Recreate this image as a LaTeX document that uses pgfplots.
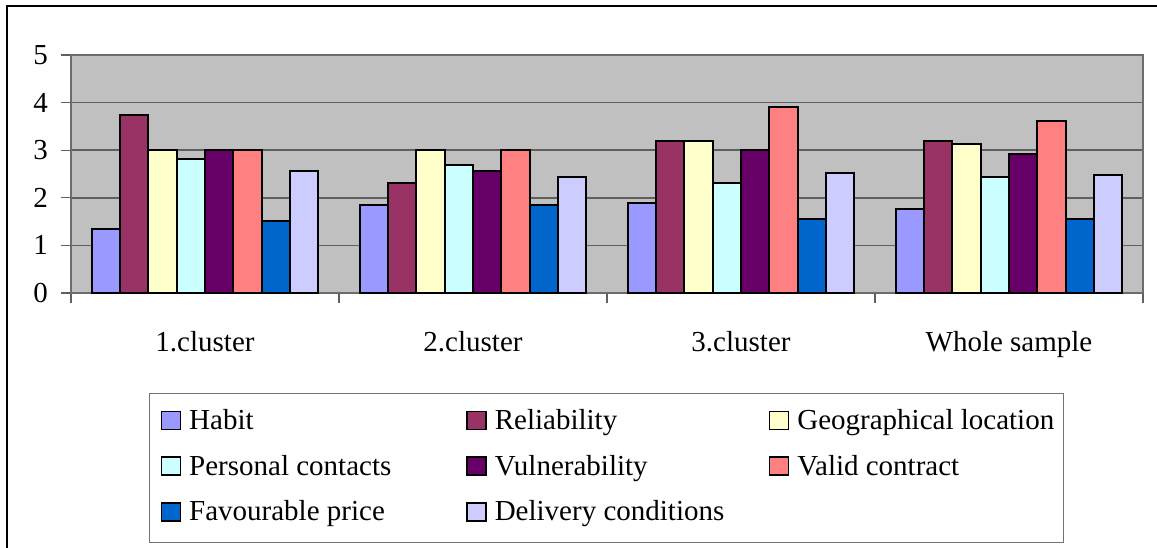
\documentclass[border=0pt]{standalone}
\usepackage{pgfplots}
\pgfplotsset{compat=1.18}
\usepackage{fontspec}
\setmainfont{Liberation Serif}
\definecolor{cHabit}{HTML}{9999FF}
\definecolor{cRel}{HTML}{993366}
\definecolor{cGeo}{HTML}{FFFFCC}
\definecolor{cPers}{HTML}{CCFFFF}
\definecolor{cVul}{HTML}{660066}
\definecolor{cValid}{HTML}{FF8080}
\definecolor{cFav}{HTML}{0066CC}
\definecolor{cDel}{HTML}{CCCCFF}
\definecolor{plotbg}{HTML}{C0C0C0}
\definecolor{gridc}{HTML}{5F5F5F}
\begin{document}
\begin{tikzpicture}[font=\fontsize{14.5}{17}\selectfont]
\useasboundingbox (0pt,0pt) rectangle (578.5pt,-273.5pt);
\draw[line width=0.9pt] (3.5pt,-300pt) -- (3.5pt,-3pt) -- (600pt,-3pt);
\begin{axis}[
  at={(35.5pt,-27.5pt)}, anchor=north west,
  width=536pt, height=119pt, scale only axis,
  xmin=-0.5, xmax=3.5, ymin=0, ymax=5,
  ytick={0,1,2,3,4,5},
  xtick={0,1,2,3},
  xticklabels={1.cluster,2.cluster,3.cluster,Whole sample},
  minor xtick={-0.5,0.5,1.5,2.5,3.5},
  xtick pos=bottom, ytick pos=left,
  major x tick style={draw=none},
  minor x tick style={draw=gridc, line width=0.6pt},
  ytick style={draw=gridc, line width=0.6pt},
  tick align=outside,
  major tick length=5pt, minor tick length=5pt,
  /pgf/number format/assume math mode=true,
  ymajorgrids,
  major grid style={draw=gridc, line width=0.8pt},
  axis background/.style={fill=plotbg},
  axis line style={draw=gray!85!black, line width=0.8pt},
  xticklabel style={yshift=-10.5pt},
  yticklabel style={xshift=-3pt},
  ybar=0pt, bar width=14.15pt,
  every axis plot/.append style={draw=black, line width=1pt},
  legend columns=3,
  legend style={at={(axis description cs:0.07276,-0.4202)}, anchor=north west,
    draw=gray!90!black, line width=0.6pt, inner xsep=5.5pt, inner ysep=3.5pt, row sep=0.8pt, column sep=0pt,
    nodes={text height=10pt, text depth=3pt, inner xsep=4pt, inner ysep=4.5pt}},
  legend image code/.code={\draw[#1, line width=0.8pt] (0pt,-3.5pt) rectangle (9.5pt,5.5pt);},
]
\addplot[fill=cHabit] coordinates {(0,1.35) (1,1.85) (2,1.89) (3,1.76)};
\addplot[fill=cRel] coordinates {(0,3.74) (1,2.32) (2,3.19) (3,3.19)};
\addplot[fill=cGeo] coordinates {(0,3.0) (1,3.0) (2,3.19) (3,3.12)};
\addplot[fill=cPers] coordinates {(0,2.81) (1,2.69) (2,2.32) (3,2.44)};
\addplot[fill=cVul] coordinates {(0,3.0) (1,2.56) (2,3.0) (3,2.91)};
\addplot[fill=cValid] coordinates {(0,3.0) (1,3.0) (2,3.91) (3,3.62)};
\addplot[fill=cFav] coordinates {(0,1.52) (1,1.85) (2,1.55) (3,1.55)};
\addplot[fill=cDel] coordinates {(0,2.56) (1,2.44) (2,2.53) (3,2.48)};
\legend{\makebox[134.5pt][l]{Habit},\makebox[133pt][l]{Reliability},\makebox[123.5pt][l]{Geographical location},
  \makebox[134.5pt][l]{Personal contacts},\makebox[133pt][l]{Vulnerability},\makebox[123.5pt][l]{Valid contract},
  \makebox[134.5pt][l]{Favourable price},\makebox[133pt][l]{Delivery conditions}}
\end{axis}
\end{tikzpicture}
\end{document}
